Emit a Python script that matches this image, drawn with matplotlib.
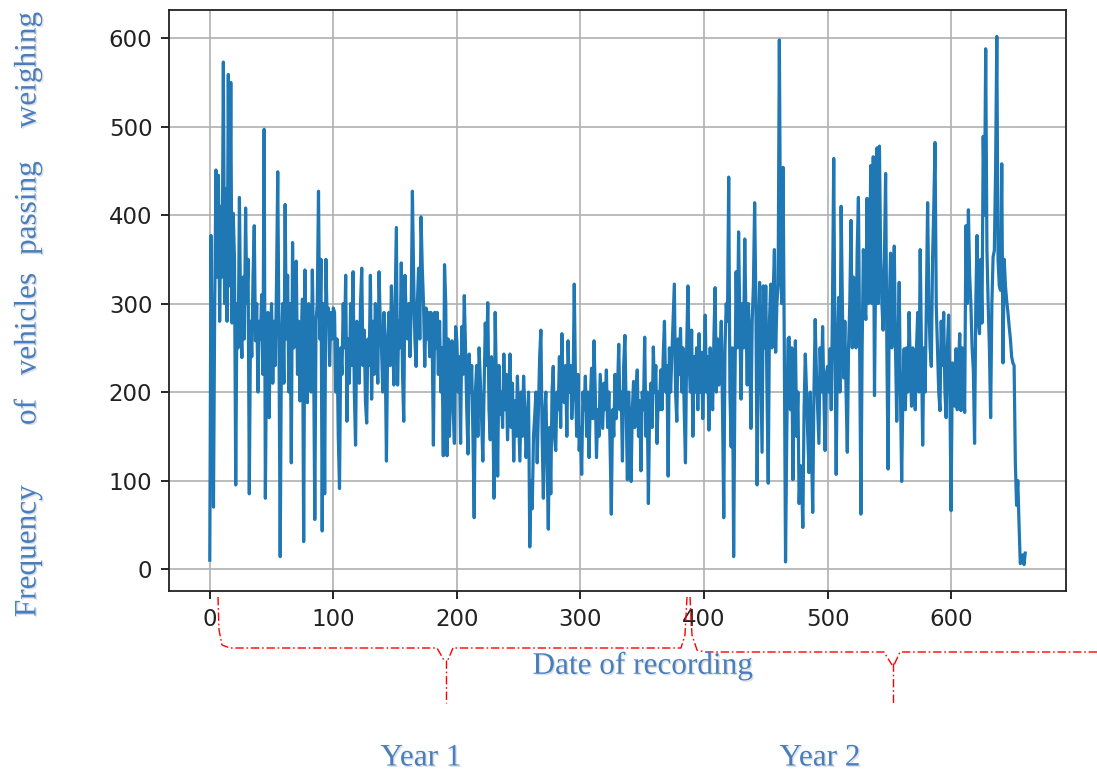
import matplotlib
matplotlib.use("Agg")
import matplotlib.pyplot as plt
import matplotlib.patheffects as pe
from matplotlib.lines import Line2D
import numpy as np

# daily count of vehicles passing the weighing station
counts = [
    10, 377, 210, 70, 300, 451, 330, 445, 280, 410,
    330, 573, 300, 430, 280, 559, 320, 550, 278, 402,
    350, 95, 300, 250, 420, 280, 239, 330, 260, 408,
    300, 350, 85, 280, 240, 330, 388, 258, 300, 200,
    280, 260, 310, 220, 497, 80, 260, 290, 171, 260,
    300, 210, 280, 230, 320, 449, 260, 14, 250, 300,
    210, 412, 260, 332, 200, 300, 120, 369, 250, 330,
    348, 220, 280, 190, 260, 305, 31, 338, 250, 188,
    300, 280, 200, 338, 250, 56, 280, 300, 427, 260,
    350, 43, 300, 85, 350, 280, 295, 230, 290, 260,
    295, 290, 200, 260, 150, 91, 250, 220, 300, 250,
    332, 167, 260, 210, 300, 230, 336, 200, 140, 280,
    250, 210, 300, 340, 230, 270, 190, 165, 260, 230,
    332, 192, 280, 220, 300, 250, 210, 336, 278, 250,
    200, 290, 240, 122, 260, 290, 230, 320, 260, 208,
    300, 386, 208, 280, 250, 346, 220, 167, 332, 280,
    260, 300, 240, 290, 427, 330, 260, 229, 300, 340,
    260, 398, 340, 300, 229, 295, 260, 290, 240, 290,
    260, 140, 290, 250, 290, 220, 280, 200, 250, 128,
    344, 300, 128, 260, 150, 220, 258, 180, 142, 274,
    258, 200, 240, 142, 274, 220, 309, 250, 180, 130,
    243, 200, 230, 150, 58, 200, 230, 150, 250, 212,
    170, 122, 200, 278, 230, 301, 180, 146, 240, 200,
    80, 290, 210, 105, 230, 175, 200, 160, 243, 180,
    220, 146, 200, 243, 160, 210, 122, 190, 150, 218,
    170, 122, 200, 150, 218, 180, 126, 160, 200, 25,
    100, 68, 150, 173, 200, 120, 180, 240, 270, 150,
    80, 175, 200, 120, 45, 160, 85, 200, 229, 150,
    134, 200, 180, 240, 160, 266, 200, 188, 230, 150,
    258, 200, 230, 170, 200, 322, 210, 150, 220, 134,
    160, 107, 200, 180, 218, 150, 200, 126, 190, 227,
    170, 258, 200, 126, 180, 150, 220, 190, 159, 210,
    180, 225, 160, 200, 140, 62, 180, 150, 220, 170,
    200, 254, 180, 200, 122, 230, 264, 180, 101, 200,
    160, 99, 180, 212, 160, 200, 225, 150, 190, 111,
    200, 180, 262, 150, 200, 74, 180, 210, 160, 251,
    200, 230, 142, 200, 180, 225, 180, 240, 280, 200,
    230, 105, 250, 200, 240, 280, 322, 200, 167, 260,
    220, 272, 200, 250, 180, 120, 250, 320, 230, 200,
    270, 150, 240, 200, 250, 180, 266, 200, 245, 170,
    230, 287, 200, 240, 157, 250, 208, 180, 260, 318,
    200, 260, 208, 240, 280, 180, 58, 250, 300, 280,
    443, 200, 138, 250, 14, 200, 336, 250, 381, 280,
    192, 300, 250, 373, 280, 208, 300, 250, 159, 280,
    320, 414, 300, 95, 250, 324, 230, 132, 320, 250,
    320, 200, 97, 280, 322, 250, 310, 361, 245, 300,
    320, 598, 350, 300, 454, 250, 8, 150, 260, 262,
    180, 250, 101, 200, 258, 150, 200, 74, 117, 100,
    47, 180, 243, 200, 150, 109, 200, 140, 64, 200,
    282, 220, 180, 142, 250, 200, 274, 200, 134, 220,
    229, 200, 249, 180, 300, 464, 250, 107, 250, 307,
    200, 410, 300, 216, 280, 200, 132, 250, 300, 394,
    250, 330, 315, 250, 361, 420, 250, 62, 250, 361,
    300, 282, 419, 300, 350, 456, 300, 466, 196, 350,
    476, 300, 478, 350, 300, 270, 350, 447, 250, 113,
    300, 357, 250, 300, 365, 250, 167, 250, 324, 200,
    99, 200, 249, 180, 250, 200, 290, 230, 184, 250,
    225, 180, 250, 290, 200, 361, 250, 140, 250, 200,
    300, 414, 300, 250, 229, 350, 410, 482, 297, 250,
    200, 179, 280, 230, 290, 200, 171, 250, 287, 200,
    66, 233, 200, 184, 249, 180, 230, 266, 179, 250,
    200, 177, 388, 300, 406, 332, 300, 250, 225, 142,
    300, 377, 280, 266, 350, 278, 489, 400, 588, 361,
    300, 250, 171, 300, 353, 360, 450, 602, 349, 320,
    315, 458, 233, 350, 320, 303, 290, 274, 260, 240,
    233, 230, 120, 72, 100, 50, 6, 10, 16, 5,
    18,
]
days = np.arange(len(counts))

x_ticks = [0, 100, 200, 300, 400, 500, 600]
y_ticks = [0, 100, 200, 300, 400, 500, 600]

ylabel_words = ["Frequency", "of", "vehicles", "passing", "weighing"]
ylabel_pos = [551, 412, 324, 208, 70]  # vertical centre of each word, px from top
period_labels = ["Year 1", "Year 2"]
period_pos = [421, 820]

W, H = 1097, 773
blue_txt = "#4a7ebb"
serif = ["Liberation Serif", "DejaVu Serif"]


def fx(x):
    return x / W


def fy(y):
    return 1 - y / H


fig = plt.figure(figsize=(W / 100, H / 100), dpi=100)
ax = fig.add_axes([fx(169), fy(591), (1066 - 169) / W, (591 - 10) / H])

ax.plot(days, counts, color="#1f77b4", lw=2.3)

ax.set_xticks(x_ticks)
ax.set_yticks(y_ticks)
ax.grid(True, color="#b0b0b0", lw=1.2)
ax.set_axisbelow(True)
ax.tick_params(labelsize=16.5, labelcolor="#222222", length=6, width=1.2, pad=6)
for s in ax.spines.values():
    s.set_linewidth(1.3)
    s.set_color("#222222")

shadow = [pe.withSimplePatchShadow(offset=(1, -1), shadow_rgbFace="#9aa6b8", alpha=0.35)]

# y axis title, words spread over the full height
for word, yp in zip(ylabel_words, ylabel_pos):
    fig.text(fx(28), fy(yp), word, rotation=90, ha="center", va="center",
             fontsize=22.5, family=serif, color=blue_txt, path_effects=shadow)

fig.text(fx(643), fy(666), "Date of recording", ha="center", va="center",
         fontsize=22.5, family=serif, color=blue_txt, path_effects=shadow)

for lab, xp in zip(period_labels, period_pos):
    fig.text(fx(xp), fy(758), lab, ha="center", va="center",
             fontsize=22.5, family=serif, color=blue_txt, path_effects=shadow)


# red dash-dot braces marking each year
def brace_line(pts):
    xs = [fx(p[0]) for p in pts]
    ys = [fy(p[1]) for p in pts]
    fig.add_artist(Line2D(xs, ys, transform=fig.transFigure, color="red",
                          lw=1.0, linestyle=(0, (6, 2, 1.2, 2))))


brace_line([(218, 597), (219, 630), (222, 645), (230, 648), (437, 648), (445, 662)])
brace_line([(453, 648), (447, 662)])
brace_line([(446, 660), (446, 703)])
brace_line([(687, 597), (685, 635), (681, 648), (453, 648)])

brace_line([(690, 597), (692, 635), (697, 650), (705, 652), (884, 652), (892, 665)])
brace_line([(1097, 652), (900, 652), (894, 665)])
brace_line([(893, 663), (893, 705)])

fig.savefig("out.png", dpi=100, facecolor="white")
